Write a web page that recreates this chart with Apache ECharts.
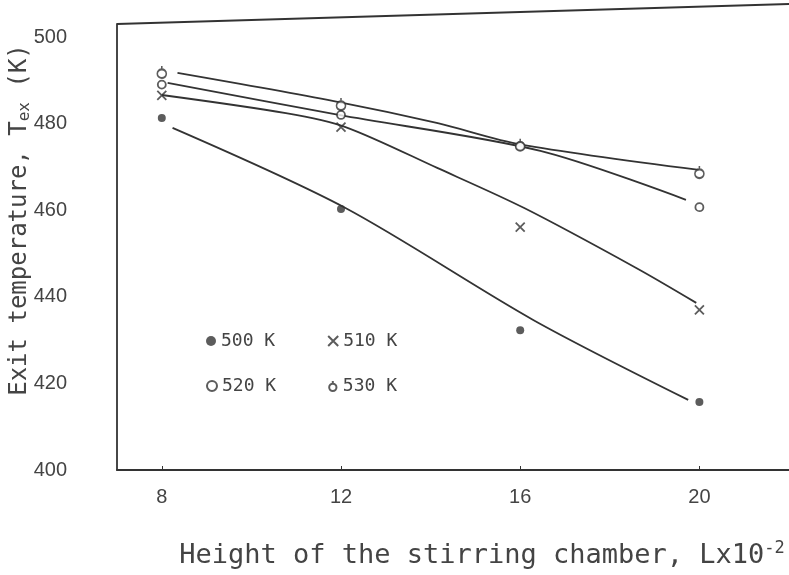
<!DOCTYPE html>
<html>
<head>
<meta charset="utf-8">
<script src="https://cdn.jsdelivr.net/npm/echarts@6/dist/echarts.min.js"></script>
<style>
  html, body { margin: 0; padding: 0; background: #fff; }
  #chart { width: 789px; height: 575px; }
</style>
</head>
<body>
<div id="chart"></div>
<script>
// tick labels
const xTicks = [8, 12, 16, 20];
const yTicks = [400, 420, 440, 460, 480, 500];

// measured points (L x 10^-2, Tex in K)
const pts500 = [[8, 481.3], [12, 460.3], [16, 432.3], [20, 415.7]];
const pts510 = [[8, 486.5], [12, 479.2], [16, 456.1], [20, 437.0]];
const pts520 = [[8, 489.0], [12, 482.0], [16, 474.8], [20, 460.7]];
const pts530 = [[8, 491.9], [12, 484.5], [16, 475.1], [20, 468.8]];

// hand drawn curves
const curve500 = [[8.24, 479.0], [12.1, 460.5], [16.3, 434.6], [19.75, 416.2]];
const curve510 = [[8.0, 486.6], [10.77, 482.4], [12.1, 479.2], [14.16, 469.7], [16.09, 460.5], [18.6, 446.6], [19.93, 438.6]];
const curve520 = [[8.13, 489.4], [11.95, 482.0], [16.45, 473.7], [19.7, 462.4]];
const curve530 = [[8.35, 491.7], [11.84, 485.2], [14.16, 480.1], [16.0, 475.2], [19.99, 469.3]];

const ink = "#333";
const mono = "'DejaVu Sans Mono', 'Liberation Mono', monospace";

const crossPath = "path://M0,0 L10,10 M10,0 L0,10";
const ringPath = "path://M5,0 A5,5 0 1,1 4.99,0 Z";
const deltaPath = "path://M5,11 A4,4 0 1,1 5.01,11 Z M5,3 L5,0";

function curve(data) {
  return {
    type: "line",
    data: data,
    smooth: 0.3,
    showSymbol: false,
    silent: true,
    lineStyle: { color: ink, width: 1.8 },
    z: 2,
  };
}

function marks(name, data, symbol, size, filled) {
  return {
    name: name,
    type: "scatter",
    data: data,
    symbol: symbol,
    symbolSize: size,
    itemStyle: filled
      ? { color: ink }
      : { color: "#fff", borderColor: ink, borderWidth: 1.8 },
    z: 3,
  };
}

const legendText = { fontFamily: mono, fontSize: 18, color: "#444" };

const chart = echarts.init(document.getElementById("chart"));

chart.setOption({
  backgroundColor: "#fff",
  animation: false,
  grid: { left: 117, right: 0, top: 24, bottom: 105, outerBoundsMode: "none", containLabel: false },
  legend: [
    {
      data: ["500 K", "510 K"],
      left: 201,
      top: 327,
      itemGap: 52,
      itemWidth: 10,
      itemHeight: 10,
      textStyle: legendText,
    },
    {
      data: ["520 K", "530 K"],
      left: 201,
      top: 372,
      itemGap: 52,
      itemWidth: 10,
      itemHeight: 10,
      textStyle: legendText,
    },
  ],
  xAxis: {
    type: "value",
    min: 7,
    max: 22,
    name: "Height of the stirring chamber, Lx10{sup|-2}",
    nameLocation: "middle",
    nameGap: 70,
    nameMoveOverlap: false,
    nameTextStyle: {
      fontFamily: mono,
      fontSize: 27,
      color: "#444",
      padding: [0, 0, 0, 58],
      rich: { sup: { fontFamily: mono, fontSize: 17, color: "#444", padding: [0, 0, 14, 0] } },
    },
    axisLine: { onZero: false, lineStyle: { color: ink, width: 1.8 } },
    axisTick: { show: true, inside: true, length: 4, customValues: xTicks, lineStyle: { color: ink } },
    axisLabel: {
      customValues: xTicks,
      margin: 17,
      fontFamily: "'Liberation Sans', sans-serif",
      fontSize: 20,
      color: "#444",
    },
    splitLine: { show: false },
  },
  yAxis: {
    type: "value",
    min: 400,
    max: 503,
    name: "Exit temperature, T{sub|ex} (K)",
    nameLocation: "middle",
    nameRotate: 90,
    nameGap: 84,
    nameMoveOverlap: false,
    nameTextStyle: {
      fontFamily: mono,
      fontSize: 24,
      color: "#444",
      padding: [0, 0, 0, 54],
      rich: { sub: { fontFamily: mono, fontSize: 16, color: "#444", padding: [10, 0, 0, 0] } },
    },
    axisLine: { show: true, onZero: false, lineStyle: { color: ink, width: 1.8 } },
    axisTick: { show: false },
    axisLabel: {
      customValues: yTicks,
      margin: 50,
      fontFamily: "'Liberation Sans', sans-serif",
      fontSize: 20,
      color: "#444",
    },
    splitLine: { show: false },
  },
  graphic: [
    {
      type: "line",
      shape: { x1: 117, y1: 24, x2: 789, y2: 4 },
      style: { stroke: ink, lineWidth: 1.8 },
    },
  ],
  series: [
    curve(curve500),
    curve(curve510),
    curve(curve520),
    curve(curve530),
    marks("500 K", pts500, "circle", 8, true),
    marks("510 K", pts510, crossPath, 9, false),
    marks("520 K", pts520, ringPath, 8, false),
    marks("530 K", pts530, deltaPath, [9, 12], false),
  ],
});
</script>
</body>
</html>
